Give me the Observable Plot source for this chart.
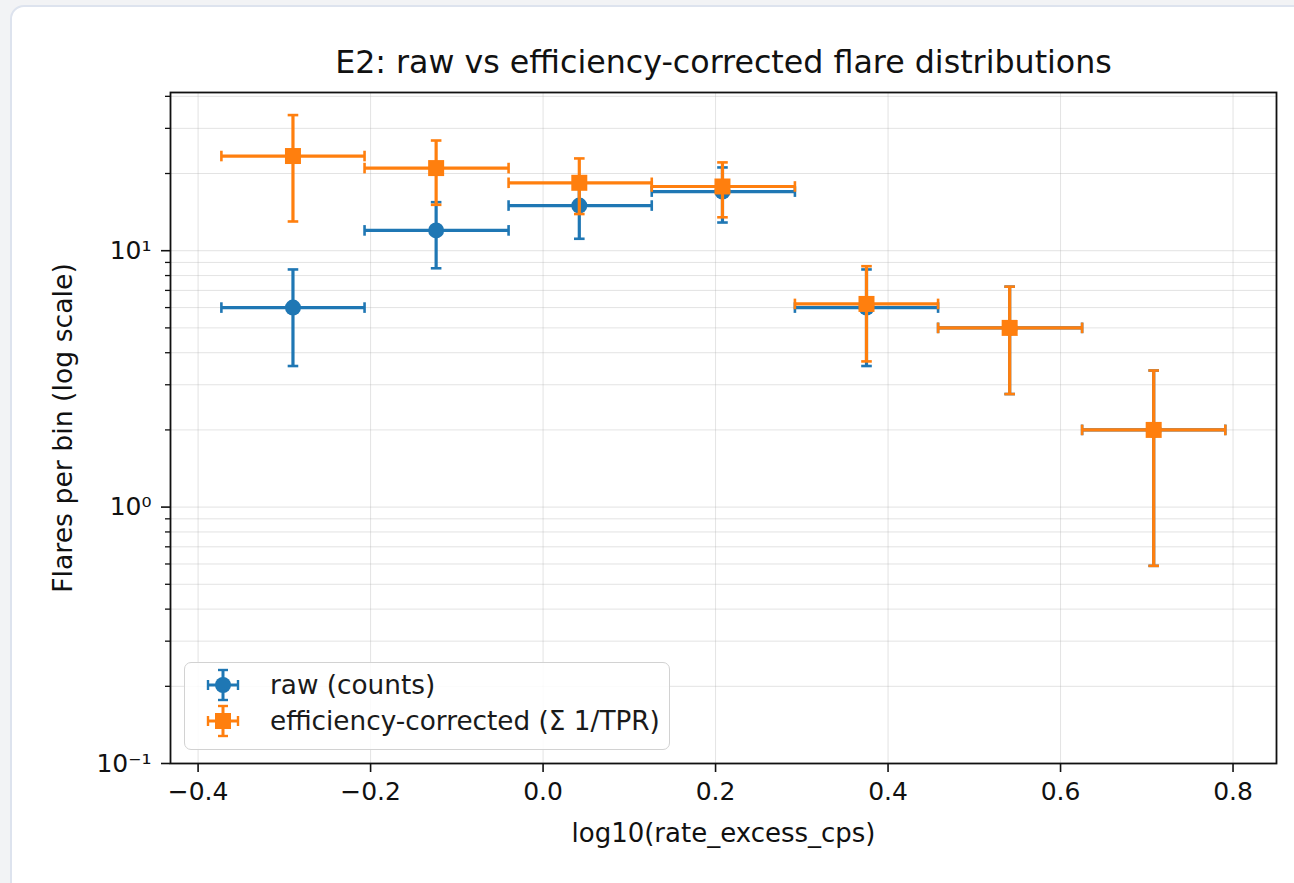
<!DOCTYPE html>
<html>
<head>
<meta charset="utf-8">
<script src="https://cdn.jsdelivr.net/npm/d3@7"></script>
<script src="https://cdn.jsdelivr.net/npm/@observablehq/plot@0.6"></script>
<style>
  html, body { margin:0; padding:0; width:1294px; height:883px; overflow:hidden; background:#f2f3f5; font-family:"DejaVu Sans", sans-serif; }
  #card { position:absolute; left:10px; top:5px; width:1320px; height:920px; background:#fff; border:2px solid #dde3ee; border-radius:14px; }
  #chart { position:absolute; left:0; top:0; }
  #legend { position:absolute; left:184px; top:662px; width:486px; height:88px; box-sizing:border-box; border:1.5px solid #d2d2d2; border-radius:7px; background:rgba(255,255,255,0.85); }
  .entry { position:absolute; left:0; height:36px; width:480px; }
  .entry svg { position:absolute; left:20px; top:0; }
  .entry span { position:absolute; left:85px; top:0; line-height:36px; font-size:26.3px; color:#1a1a1a; white-space:nowrap; }
</style>
</head>
<body>
<div id="card"></div>
<div id="chart"></div>
<div id="legend"></div>
<script>
// ---- data ----
const titleText = "E2: raw vs efficiency-corrected flare distributions";
const xLabelText = "log10(rate_excess_cps)";
const yLabelText = "Flares per bin (log scale)";
const binCenters = [-0.290, -0.124, 0.042, 0.208, 0.375, 0.541, 0.708];
const binLow     = [-0.373, -0.207, -0.040, 0.126, 0.292, 0.458, 0.625];
const binHigh    = [-0.207, -0.040, 0.126, 0.292, 0.458, 0.625, 0.791];
const rawCounts  = [6, 12, 15, 17, 6, 5, 2];
const rawErr     = [2.45, 3.46, 3.87, 4.12, 2.45, 2.24, 1.41];
const corrCounts = [23.4, 21.0, 18.4, 17.8, 6.2, 5.0, 2.0];
const corrErr    = [10.4, 5.9, 4.5, 4.3, 2.5, 2.24, 1.41];
const seriesNames = ["raw (counts)", "efficiency-corrected (Σ 1/TPR)"];
const seriesColors = ["#1f77b4", "#ff7f0e"];
const xTicks = [-0.4, -0.2, 0.0, 0.2, 0.4, 0.6, 0.8];
const xTickLabels = ["−0.4", "−0.2", "0.0", "0.2", "0.4", "0.6", "0.8"];
const yMajorTicks = [0.1, 1, 10];
const yMajorLabels = ["10⁻¹", "10⁰", "10¹"];
const yMinorTicks = [0.2,0.3,0.4,0.5,0.6,0.7,0.8,0.9,2,3,4,5,6,7,8,9,20,30,40];

// ---- build ----
const raw = binCenters.map((x, i) => ({x, lo: binLow[i], hi: binHigh[i], y: rawCounts[i], e: rawErr[i]}));
const corr = binCenters.map((x, i) => ({x, lo: binLow[i], hi: binHigh[i], y: corrCounts[i], e: corrErr[i]}));
const xLab = new Map(xTicks.map((t, i) => [t, xTickLabels[i]]));
const yLab = new Map(yMajorTicks.map((t, i) => [t, yMajorLabels[i]]));

const rad = s => Math.sqrt(s / Math.PI);
const capV = {draw(ctx, s) { const r = rad(s); ctx.moveTo(0, -r); ctx.lineTo(0, r); }};
const capH = {draw(ctx, s) { const r = rad(s); ctx.moveTo(-r, 0); ctx.lineTo(r, 0); }};
const sq = {draw(ctx, s) { const r = rad(s); ctx.rect(-r, -r, 2 * r, 2 * r); }};

function series(data, color, marker) {
  const lw = 3.2, cw = 2.6, cr = 5.3;
  return [
    Plot.link(data, {x1: "lo", x2: "hi", y1: "y", y2: "y", stroke: color, strokeWidth: lw}),
    Plot.link(data, {x1: "x", x2: "x", y1: d => d.y - d.e, y2: d => d.y + d.e, stroke: color, strokeWidth: lw}),
    Plot.dot(data, {x: "lo", y: "y", symbol: capV, r: cr, stroke: color, strokeWidth: cw, fill: "none"}),
    Plot.dot(data, {x: "hi", y: "y", symbol: capV, r: cr, stroke: color, strokeWidth: cw, fill: "none"}),
    Plot.dot(data, {x: "x", y: d => d.y - d.e, symbol: capH, r: cr, stroke: color, strokeWidth: cw, fill: "none"}),
    Plot.dot(data, {x: "x", y: d => d.y + d.e, symbol: capH, r: cr, stroke: color, strokeWidth: cw, fill: "none"}),
    marker === "o"
      ? Plot.dot(data, {x: "x", y: "y", r: 8, fill: color, stroke: "none"})
      : Plot.dot(data, {x: "x", y: "y", symbol: sq, r: 8, fill: color, stroke: "none"})
  ];
}

const chart = Plot.plot({
  width: 1294, height: 883,
  marginLeft: 170, marginRight: 18, marginTop: 92, marginBottom: 120,
  style: {background: "transparent", fontFamily: "DejaVu Sans", fontSize: "25px", color: "#111", overflow: "visible"},
  x: {domain: [-0.432, 0.8504]},
  y: {type: "log", domain: [0.1, 41.4]},
  marks: [
    Plot.gridY(yMajorTicks.concat(yMinorTicks), {stroke: "#b0b0b0", strokeOpacity: 0.35, strokeWidth: 1}),
    Plot.gridX(xTicks, {stroke: "#b0b0b0", strokeOpacity: 0.35, strokeWidth: 1}),
    ...series(raw, seriesColors[0], "o"),
    ...series(corr, seriesColors[1], "s"),
    Plot.frame({stroke: "#111", strokeWidth: 1.8}),
    Plot.axisX(xTicks, {tickSize: 9, tickPadding: 10, strokeWidth: 1.6, tickFormat: d => xLab.get(d), fontSize: 25, label: null}),
    Plot.axisY(yMajorTicks, {tickSize: 9, tickPadding: 10, strokeWidth: 1.6, tickFormat: d => yLab.get(d), fontSize: 25, label: null}),
    Plot.axisY(yMinorTicks, {tickSize: 5, strokeWidth: 1.3, tickFormat: () => "", label: null}),
    Plot.text([titleText], {frameAnchor: "top", dy: -42, fontSize: 31.7, text: d => d, fill: "#111", textAnchor: "middle"}),
    Plot.text([xLabelText], {frameAnchor: "bottom", dy: 78, fontSize: 26, text: d => d, fill: "#111", textAnchor: "middle"}),
    Plot.text([yLabelText], {frameAnchor: "left", dx: -107, rotate: -90, fontSize: 26.7, text: d => d, fill: "#111", textAnchor: "middle", lineAnchor: "middle"})
  ]
});
document.getElementById("chart").appendChild(chart);

// ---- legend ----
const legend = document.getElementById("legend");
seriesNames.forEach((name, i) => {
  const e = document.createElement("div");
  e.className = "entry";
  e.style.top = (i === 0 ? 4 : 40) + "px";
  const c = seriesColors[i];
  const mk = i === 0 ? `<circle cx="18" cy="18" r="8" fill="${c}"/>` : `<rect x="10" y="10" width="16" height="16" fill="${c}"/>`;
  e.innerHTML = `<svg width="36" height="36" viewBox="0 0 36 36">
    <line x1="3" y1="18" x2="33" y2="18" stroke="${c}" stroke-width="3"/>
    <line x1="18" y1="3" x2="18" y2="33" stroke="${c}" stroke-width="3"/>
    <line x1="3" y1="13" x2="3" y2="23" stroke="${c}" stroke-width="2.4"/>
    <line x1="33" y1="13" x2="33" y2="23" stroke="${c}" stroke-width="2.4"/>
    <line x1="13" y1="3" x2="23" y2="3" stroke="${c}" stroke-width="2.4"/>
    <line x1="13" y1="33" x2="23" y2="33" stroke="${c}" stroke-width="2.4"/>
    ${mk}</svg><span>${name}</span>`;
  legend.appendChild(e);
});
</script>
</body>
</html>
